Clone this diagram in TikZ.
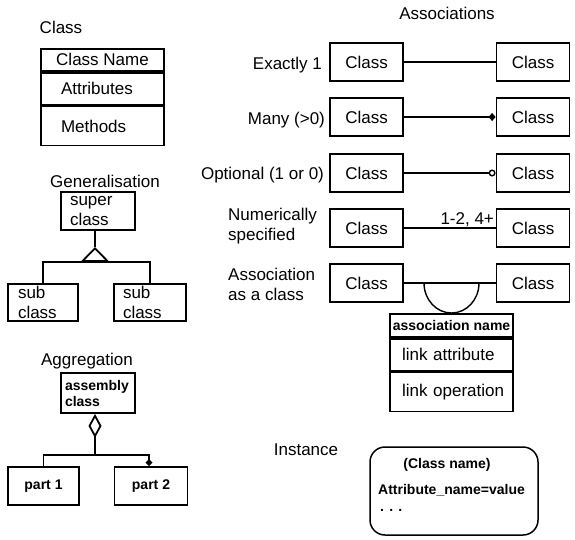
\documentclass[tikz,border=0pt]{standalone}
\usepackage{fontspec}
\setmainfont{Liberation Sans}
\usetikzlibrary{arrows.meta}

\newcommand{\umlfont}{\fontsize{17}{20}\selectfont}
\newcommand{\umlsmall}{\fontsize{14}{16}\selectfont\bfseries}

\begin{document}
\begin{tikzpicture}[x=1pt, y=-1pt, font=\umlfont, inner sep=0pt,
    umlbox/.style={draw, line width=1.8pt, inner sep=0pt},
    classrow/.style={umlbox, minimum width=123pt, anchor=north},
    classbox/.style={umlbox, minimum width=73pt, minimum height=38pt},
    link/.style={line width=1.8pt},
    assoc/.style={line width=1.4pt}]
    \useasboundingbox (0,0) rectangle (575,539);

    % Class {name, attributes, methods}
    \node [anchor=base] (clstitle) at (61,33) {Class};
    \node [classrow, minimum height=22pt] (clsname) at (102.5,48) {Class Name};
    \node [classrow, minimum height=32pt, inner xsep=20pt, text width=83pt, align=left] (clsattr) at (clsname.south) {Attributes};
    \node [classrow, minimum height=39pt, inner xsep=20pt, text width=83pt, align=left] (clsmeth) at (clsattr.south) {Methods};

    % Generalisation
    \node [anchor=base] (gentitle) at (105,187) {Generalisation};
    \node [umlbox, minimum width=74pt, minimum height=38pt, inner xsep=9pt, text width=56pt, align=left] (super) at (98,211) {super\\class};
    \node [umlbox, minimum width=70pt, minimum height=37pt, inner xsep=10pt, text width=50pt, align=left] (subl) at (43,302.5) {sub\\class};
    \node [umlbox, minimum width=72pt, minimum height=37pt, inner xsep=9pt, text width=54pt, align=left] (subr) at (150,302.5) {sub\\class};
    \coordinate (genapex) at (95,247);
    \coordinate (genbar) at (95,262);
    \draw [link] ([xshift=-3pt]super.south) -- (genapex);
    \draw [link, -{Triangle[open, length=15pt, width=29pt]}] (genbar) -- (genapex);
    \draw [link] (subl.north) |- (genbar) -| (subr.north);

    % Aggregation
    \node [anchor=base] (aggtitle) at (87,365) {Aggregation};
    \node [umlbox, font=\umlsmall, minimum width=74pt, minimum height=40pt, inner xsep=4pt, text width=66pt, align=left] (assembly) at (98,393) {assembly\\class};
    \node [umlbox, font=\umlsmall, minimum width=71pt, minimum height=38pt] (part1) at (43.5,486) {part 1};
    \node [umlbox, font=\umlsmall, minimum width=73pt, minimum height=38pt] (part2) at (151,486) {part 2};
    \coordinate (aggbar) at (95,455);
    \draw [link, -{Diamond[open, length=24pt, width=13pt]}] (aggbar) -- ([xshift=-3pt]assembly.south);
    \draw [link, -{Diamond[length=7pt, width=7pt]}] (part1.north) |- (aggbar) -| ([xshift=-2pt]part2.north);

    % Associations
    \node [anchor=base] (asstitle) at (447,19) {Associations};
    \node [classbox] (asl1) at (366.5,62) {Class};
    \node [classbox] (asr1) at (533,62) {Class};
    \node [classbox] (asl2) at (366.5,117) {Class};
    \node [classbox] (asr2) at (533,117) {Class};
    \node [classbox] (asl3) at (366.5,173) {Class};
    \node [classbox] (asr3) at (533,173) {Class};
    \node [classbox] (asl4) at (366.5,228) {Class};
    \node [classbox] (asr4) at (533,228) {Class};
    \node [classbox] (asl5) at (366.5,283) {Class};
    \node [classbox] (asr5) at (533,283) {Class};
    \node [anchor=base east] (lab1) at ([xshift=-7pt, yshift=-7pt]asl1.west) {Exactly 1};
    \node [anchor=base east] (lab2) at ([xshift=-4pt, yshift=-7pt]asl2.west) {Many (>0)};
    \node [anchor=base east] (lab3) at ([xshift=-5pt, yshift=-6pt]asl3.west) {Optional (1 or 0)};
    \node [anchor=west, align=left] (lab4) at (228,226) {Numerically\\specified};
    \node [anchor=west, align=left] (lab5) at (228,284) {Association\\as a class};

    % Association as a class
    \node [classrow, font=\umlsmall, minimum height=23pt] (asname) at (451.5,313) {association name};
    \node [classrow, minimum height=32pt, inner xsep=12pt, text width=99pt, align=left] (asattr) at (asname.south) {\mbox{link attribute}};
    \node [classrow, minimum height=39pt, inner xsep=12pt, text width=99pt, align=left] (asop) at (asattr.south) {\mbox{link operation}};

    % Paths
    \path [assoc] (asl1) edge (asr1);
    \path [assoc] (asl2) edge [-{Diamond[length=7pt, width=8pt]}] (asr2);
    \path [assoc] (asl3) edge [-{Circle[open, length=7pt]}] (asr3);
    \path [assoc] (asl4) edge node [pos=1, anchor=south east, inner sep=1pt] {1-2, 4+} (asr4);
    \path [assoc] (asl5) edge (asr5);
    \draw [assoc] (asname.north) arc [start angle=270, end angle=180, x radius=27.5pt, y radius=30pt];
    \draw [assoc] (asname.north) arc [start angle=270, end angle=360, x radius=27.5pt, y radius=30pt];

    % Instance
    \node [anchor=base] (insttitle) at (306,455) {Instance};
    \node [draw, line width=1.5pt, rounded corners=15pt, minimum width=168pt, minimum height=88pt] (inst) at (454,491) {};
    \node [font=\umlsmall, anchor=base] (instcls) at (447,468) {(Class name)};
    \node [font=\umlsmall, anchor=base west] (instattr) at (378,494) {Attribute\_name=value};
    \node [font=\umlsmall, anchor=base west] (instdots) at (380,511) {. . .};

\end{tikzpicture}
\end{document}
